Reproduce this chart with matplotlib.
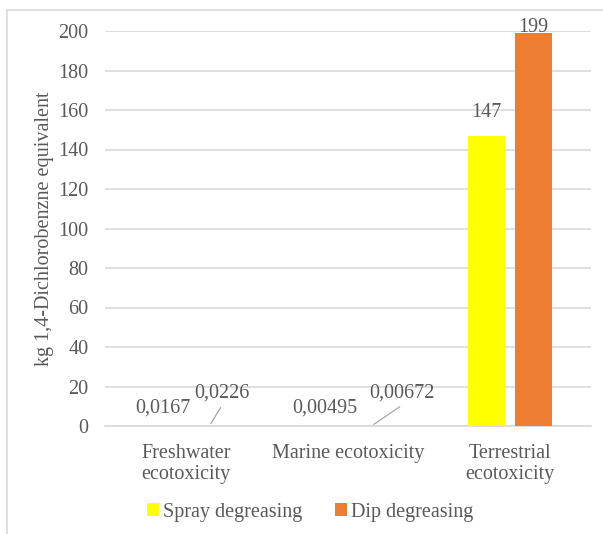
import matplotlib.pyplot as plt
import numpy as np
from matplotlib.patches import Rectangle

categories = ["Freshwater\necotoxicity", "Marine ecotoxicity", "Terrestrial\necotoxicity"]
spray = [0.0167, 0.00495, 147]
dip = [0.0226, 0.00672, 199]
spray_labels = ["0,0167", "0,00495", "147"]
dip_labels = ["0,0226", "0,00672", "199"]

plt.rcParams['font.family'] = ['Liberation Serif', 'DejaVu Serif']
grey = "#595959"
fs = 14.5

fig = plt.figure(figsize=(6.03, 5.34), dpi=100)
ax = fig.add_axes([105/603, 1-426/534, 486/603, 395/534])

x = np.arange(len(categories))
w = 0.228
off = 0.145
ax.bar(x - off, spray, w, color="#FFFF00", label="Spray degreasing", zorder=3)
ax.bar(x + off, dip, w, color="#ED7D31", label="Dip degreasing", zorder=3)

ax.set_xlim(-0.5, 2.5)
ax.set_ylim(0, 200)
ax.set_yticks(range(0, 201, 20))
ax.yaxis.grid(True, color="#d9d9d9", linewidth=1.2, zorder=0)
for s in ["top", "right", "left"]:
    ax.spines[s].set_visible(False)
ax.spines["bottom"].set_color("#d9d9d9")
ax.spines["bottom"].set_linewidth(1.2)
ax.tick_params(length=0, labelsize=fs, colors=grey, pad=12)
ax.tick_params(axis="x", pad=13)
ax.set_xticks(x)
ax.set_xticklabels(categories, linespacing=1.15)
ax.set_ylabel("kg 1,4-Dichlorobenzne equivalent", fontsize=fs, color=grey, labelpad=3)

# value labels: small values sit just above the axis, dip labels use a leader line
for i in range(2):
    dx = 9 if i == 0 else 22
    ax.annotate(spray_labels[i], (x[i] - off, spray[i]), xytext=(0, 13),
                textcoords="offset points", ha="center", va="center",
                fontsize=fs, color=grey)
    ax.annotate(dip_labels[i], (x[i] + off, dip[i]), xytext=(dx, 23.5),
                textcoords="offset points", ha="center", va="center",
                fontsize=fs, color=grey)
    ax.annotate("", (x[i] + off, dip[i]), xytext=(dx, 15),
                textcoords="offset points",
                arrowprops=dict(arrowstyle="-", color="#a6a6a6", lw=0.9))
ax.text(x[2] - off, spray[2] + 7, spray_labels[2], ha="center", va="bottom",
        fontsize=fs, color=grey)
ax.text(x[2] + off, dip[2] - 2, dip_labels[2], ha="center", va="bottom",
        fontsize=fs, color=grey)

fig.legend(loc="center", bbox_to_anchor=(310/603, 1-512/534), ncol=2, frameon=False,
           fontsize=fs, handlelength=0.6, handleheight=0.6, handletextpad=0.2,
           columnspacing=1.6, labelcolor=grey)

fig.patches.append(Rectangle((7/603, -0.1), 1.0, 1-10/534+0.1, transform=fig.transFigure,
                             fill=False, edgecolor="#d9d9d9", linewidth=1.2))

fig.savefig("out.png", dpi=100)
